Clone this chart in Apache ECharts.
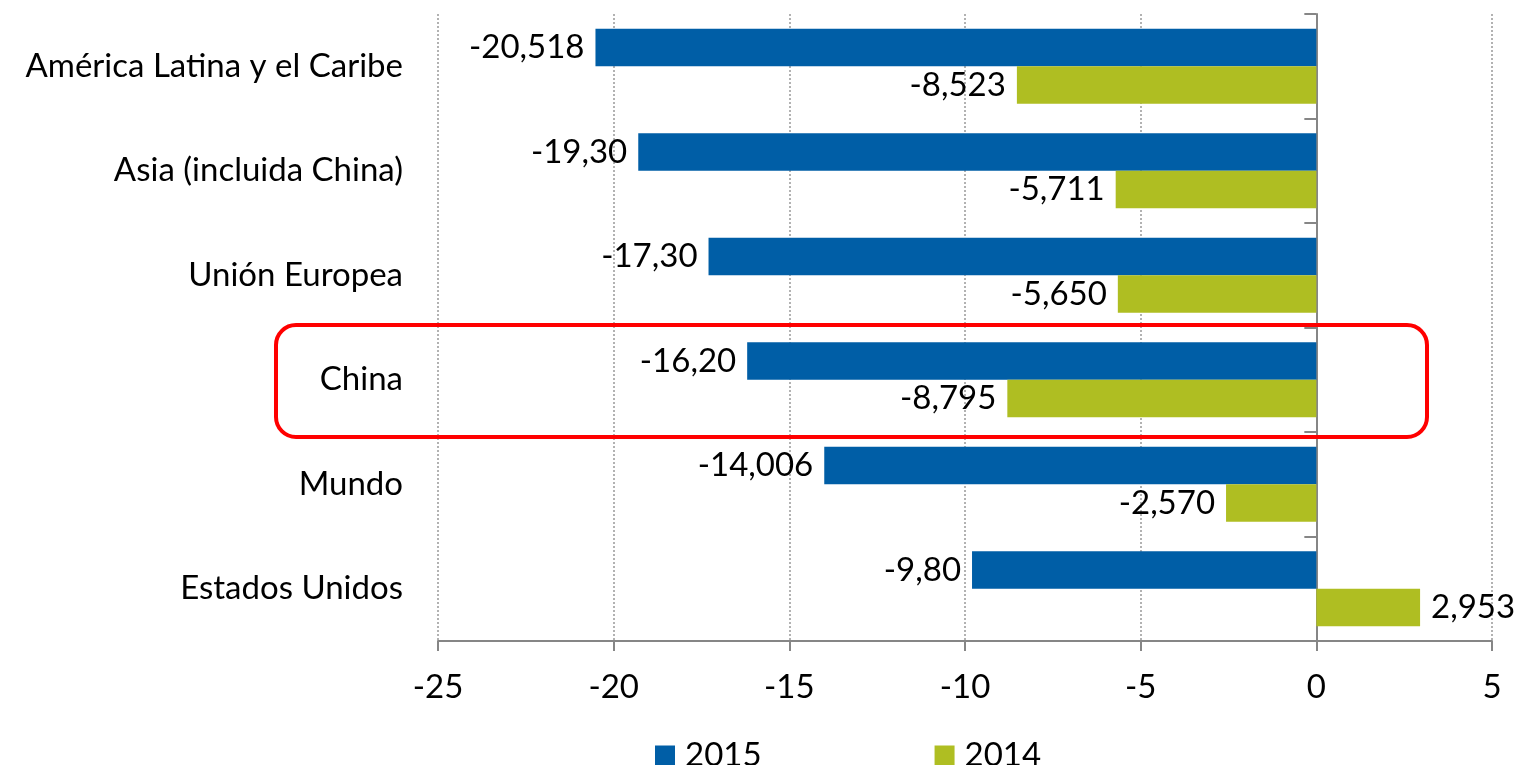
<!DOCTYPE html>
<html>
<head>
<meta charset="utf-8">
<script src="https://cdn.jsdelivr.net/npm/echarts@6/dist/echarts.min.js"></script>
<style>
  html, body { margin: 0; padding: 0; background: #fff; }
  #chart { width: 1522px; height: 765px; }
</style>
</head>
<body>
<div id="chart"></div>
<script type="text/javascript">
// datos
const categories = ['América Latina y el Caribe', 'Asia (incluida China)', 'Unión Europea', 'China', 'Mundo', 'Estados Unidos'];
const values2015 = [-20.518, -19.30, -17.30, -16.20, -14.006, -9.80];
const values2014 = [-8.523, -5.711, -5.650, -8.795, -2.570, 2.953];
const labels2015 = ['-20,518', '-19,30', '-17,30', '-16,20', '-14,006', '-9,80'];
const labels2014 = ['-8,523', '-5,711', '-5,650', '-8,795', '-2,570', '2,953'];
const xTicks = [-25, -20, -15, -10, -5, 0, 5];

const FONT = 'Lato';
const FS = 33;
const myChart = echarts.init(document.getElementById('chart'));

function barData(values) {
    // negative bars get their label on the left
    return values.map(function (v) {
        return v < 0 ? { value: v, label: { position: 'left' } } : v;
    });
}

function barLabel(labels) {
    return {
        show: true,
        position: 'right',
        distance: 11,
        fontFamily: FONT,
        fontSize: FS,
        color: '#000',
        formatter: function (p) { return labels[p.dataIndex]; }
    };
}

const option = {
    animation: false,
    textStyle: { fontFamily: FONT },
    grid: { left: 438, right: 30, top: 14, bottom: 124, containLabel: false },
    legend: {
        left: 650,
        top: 734,
        itemWidth: 20,
        itemHeight: 20,
        itemGap: 173,
        icon: 'rect',
        textStyle: { fontFamily: FONT, fontSize: FS, color: '#000', padding: [0, 0, 0, 5] },
        data: ['2015', '2014']
    },
    xAxis: {
        type: 'value',
        min: xTicks[0],
        max: xTicks[xTicks.length - 1],
        interval: 5,
        axisLine: { show: true, onZero: false, lineStyle: { color: '#868686', width: 2 } },
        axisTick: { show: true, length: 10, lineStyle: { color: '#868686', width: 2 } },
        axisLabel: { fontFamily: FONT, fontSize: FS, color: '#000', margin: 30 },
        splitLine: { show: true, lineStyle: { color: '#999', type: [2, 2], width: 1.5 } }
    },
    yAxis: [{
        type: 'category',
        inverse: true,
        data: categories,
        axisLine: { show: false, onZero: false },
        axisTick: { show: false },
        axisLabel: { fontFamily: FONT, fontSize: FS, color: '#000', margin: 35 }
    }, {
        type: 'category',
        inverse: true,
        data: categories,
        axisLine: { show: true, onZero: true, lineStyle: { color: '#868686', width: 2 } },
        axisTick: { show: true, inside: true, length: 12, lineStyle: { color: '#868686', width: 2 } },
        axisLabel: { show: false },
        splitLine: { show: false }
    }],
    series: [{
        name: '2015',
        type: 'bar',
        data: barData(values2015),
        itemStyle: { color: '#005EA6' },
        barGap: '0%',
        barCategoryGap: '28%',
        label: barLabel(labels2015)
    }, {
        name: '2014',
        type: 'bar',
        data: barData(values2014),
        itemStyle: { color: '#AFBE22' },
        barGap: '0%',
        barCategoryGap: '28%',
        label: barLabel(labels2014)
    }],
    graphic: [{
        type: 'rect',
        shape: { x: 276, y: 325, width: 1151, height: 112, r: 20 },
        style: { fill: 'none', stroke: '#FF0000', lineWidth: 4 },
        z: 100
    }]
};

myChart.setOption(option);
window.addEventListener('resize', function () {
    myChart.resize();
});
</script>
</body>
</html>
